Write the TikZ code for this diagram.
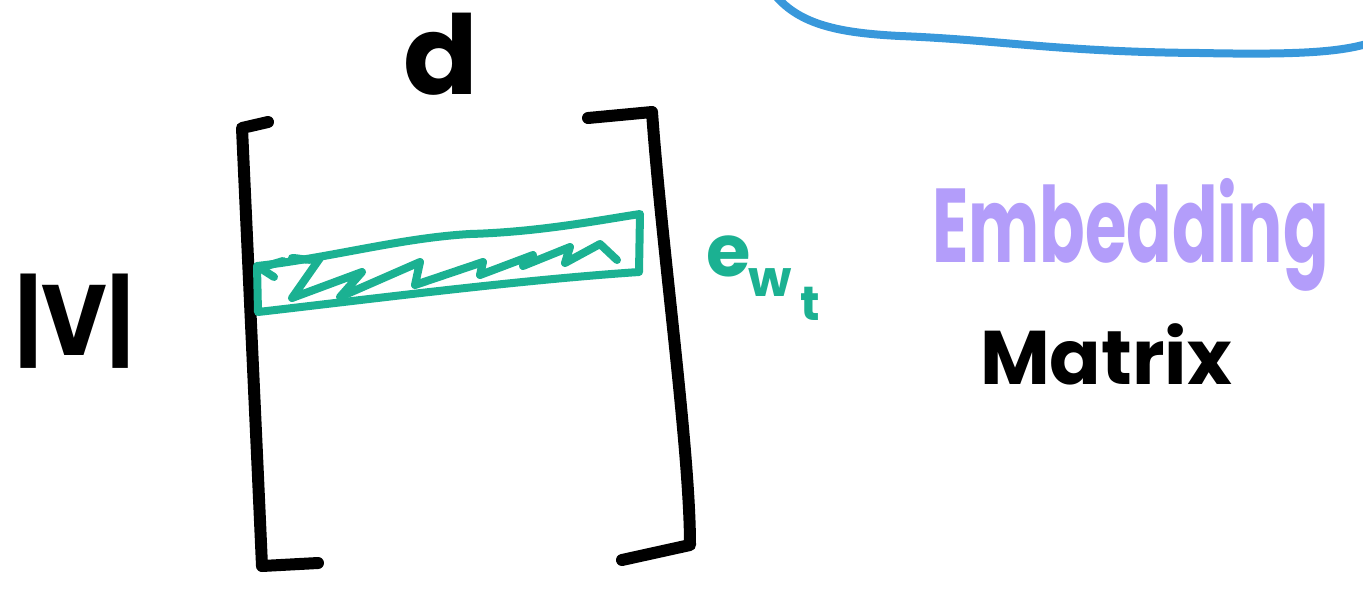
\documentclass[tikz,border=0pt]{standalone}
\usepackage{fontspec}
\setmainfont{Poppins}
\definecolor{tealg}{RGB}{27,177,146}
\definecolor{lav}{RGB}{179,157,250}
\definecolor{skyb}{RGB}{56,152,219}
\begin{document}
\begin{tikzpicture}[x=1pt,y=-1pt,
  ink/.style={line width=12pt,line cap=round,line join=round},
  gink/.style={draw=tealg,line width=8pt,line cap=round,line join=round},
  lbl/.style={inner sep=0pt,anchor=base west}]
\useasboundingbox (0,0) rectangle (1363,590);
% blue curve
\draw[draw=skyb,line width=8pt,line cap=round] (775,-5) .. controls (800,25) and (840,33) .. (900,36)
  .. controls (1000,40) and (1060,52) .. (1200,53) .. controls (1300,55) and (1340,52) .. (1370,43);
% brackets
\coordinate (lt) at (242,128);
\coordinate (lb) at (262,566);
\draw[ink] (268,122) -- (lt) .. controls (248,260) and (256,430) .. (lb) -- (318,563);
\coordinate (rt) at (652,112);
\coordinate (rb) at (690,545);
\draw[ink] (588,118) -- (rt) .. controls (662,250) and (690,450) .. (rb) -- (622,560);
% green row
\draw[gink] (257,266) .. controls (330,258) and (400,238) .. (470,234)
  .. controls (540,232) and (600,220) .. (640,214) -- (639,272)
  .. controls (520,280) and (380,298) .. (258,312) -- cycle;
\draw[gink] (260,268) -- (283,261) (260,268) -- (274,277);
\draw[gink] (292,258) .. controls (300,258) and (310,262) .. (320,258)
  -- (292,298) -- (362,272) -- (340,297) -- (420,262) -- (415,285)
  -- (483,262) -- (480,275) -- (533,255) -- (523,266) -- (570,247)
  -- (565,263) -- (600,244) -- (617,260);
% labels
\node[lbl,font=\fontsize{110}{110}\selectfont\bfseries] (d) at (403,94) {d};
\node[lbl,font=\fontsize{100}{100}\selectfont\bfseries,xscale=0.9] (V) at (15,355) {|V|};
\node[lbl,text=tealg,font=\fontsize{72}{72}\selectfont\bfseries] (e) at (706,276) {e};
\node[lbl,text=tealg,font=\fontsize{50}{50}\selectfont\bfseries] (w) at (748,296) {w};
\node[lbl,text=tealg,font=\fontsize{48}{48}\selectfont\bfseries] (t) at (800,320) {t};
\node[lbl,text=lav,font=\fontsize{105}{105}\selectfont\bfseries,xscale=0.64] (emb) at (932,262) {Embedding};
\node[lbl,font=\fontsize{76}{76}\selectfont\bfseries] (mat) at (980,384) {Matrix};
\end{tikzpicture}
\end{document}
